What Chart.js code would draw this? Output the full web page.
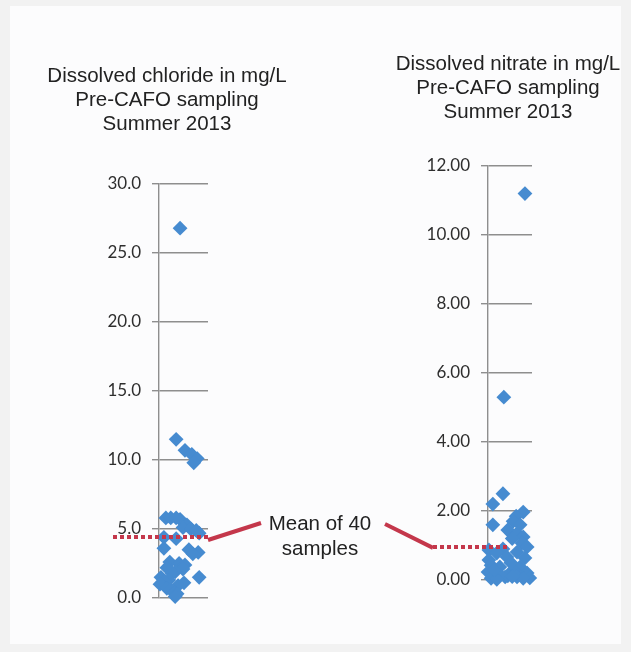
<!DOCTYPE html>
<html>
<head>
<meta charset="utf-8">
<script src="https://cdn.jsdelivr.net/npm/chart.js@4"></script>
<style>
  body { margin: 0; background: #f2f2f2; }
  #pagina { position: absolute; left: 10px; top: 6px; width: 611px; height: 638px; background: #fcfcfd; }
  canvas { position: absolute; left: 0; top: 0; }
  .texto { position: absolute; font-family: "Liberation Sans", Arial, sans-serif; font-size: 20.5px;
           color: #222; line-height: 24px; text-align: center; white-space: nowrap; }
</style>
</head>
<body>
<div id="pagina"></div>
<canvas id="graficoCloreto" width="631" height="652"></canvas>
<canvas id="graficoNitrato" width="631" height="652"></canvas>
<div class="texto" style="left:17px; top:63px; width:300px;">Dissolved chloride in mg/L<br>Pre-CAFO sampling<br>Summer 2013</div>
<div class="texto" style="left:358px; top:51px; width:300px;">Dissolved nitrate in mg/L<br>Pre-CAFO sampling<br>Summer 2013</div>
<div class="texto" style="left:220px; top:510px; width:200px; line-height:25px;">Mean of 40<br>samples</div>
<script>
// Cloreto dissolvido (mg/L), 40 amostras, com deslocamento horizontal (jitter) de cada ponto
const cloretoValores = [26.8, 11.5, 10.7, 10.4, 10.1, 9.8, 5.8, 5.8, 5.8, 5.7,
                        5.3, 5.1, 5.0, 4.9, 4.7, 4.4, 4.3, 3.6, 3.5, 3.3,
                        3.2, 2.6, 2.5, 2.4, 2.2, 2.1, 1.9, 1.8, 1.5, 1.5,
                        1.3, 1.2, 1.1, 1.0, 0.9, 0.7, 0.6, 0.4, 0.3, 0.1];
const cloretoJitter = [0.43, 0.35, 0.53, 0.67, 0.78, 0.71, 0.14, 0.24, 0.35, 0.43,
                       0.57, 0.49, 0.65, 0.76, 0.82, 0.10, 0.35, 0.10, 0.61, 0.80,
                       0.69, 0.22, 0.41, 0.53, 0.16, 0.49, 0.33, 0.27, 0.04, 0.82,
                       0.20, 0.12, 0.51, 0.02, 0.39, 0.16, 0.24, 0.31, 0.37, 0.33];
const cloretoMedia = 4.42;
const cloretoTicks = [0, 5, 10, 15, 20, 25, 30];

// Nitrato dissolvido (mg/L), 40 amostras
const nitratoValores = [11.2, 5.3, 2.5, 2.2, 1.97, 1.85, 1.7, 1.6, 1.6, 1.45,
                        1.35, 1.25, 1.2, 1.07, 0.96, 0.87, 0.9, 0.78, 0.81, 0.67,
                        0.64, 0.58, 0.43, 0.38, 0.38, 0.29, 0.23, 0.2, 0.14, 0.12,
                        0.09, 0.09, 0.06, 0.05, 0.15, 0.05, 0.1, 0.02, 0.3, 0.5];
const nitratoJitter = [0.84, 0.36, 0.34, 0.11, 0.80, 0.64, 0.57, 0.11, 0.73, 0.45,
                       0.66, 0.80, 0.55, 0.77, 0.89, 0.02, 0.34, 0.20, 0.66, 0.43,
                       0.84, 0.02, 0.07, 0.27, 0.73, 0.57, 0.00, 0.89, 0.16, 0.45,
                       0.39, 0.66, 0.95, 0.80, 0.27, 0.07, 0.55, 0.20, 0.14, 0.52];
const nitratoMedia = 0.96;
const nitratoTicks = [0, 2, 4, 6, 8, 10, 12];

const corPonto = '#468bd0';
const corMedia = '#c4374b';
const corGrade = '#8e8e8e';

// Plugin que desenha a linha pontilhada da média e a linha de ligação até o texto
const linhaMedia = {
    id: 'linhaMedia',
    afterDatasetsDraw(chart, args, opts) {
        const ctx = chart.ctx;
        const area = chart.chartArea;
        const y = chart.scales.y.getPixelForValue(opts.media);
        const x0 = area.left + opts.inicio;
        const x1 = opts.fim === null ? area.right : area.left + opts.fim;
        ctx.save();
        ctx.strokeStyle = corMedia;
        ctx.lineWidth = 4;
        ctx.setLineDash([4, 3]);
        ctx.beginPath();
        ctx.moveTo(x0, y);
        ctx.lineTo(x1, y);
        ctx.stroke();
        // Ligação sólida até a legenda "Mean of 40 samples"
        const xl = opts.ladoDireito ? x1 : x0;
        ctx.setLineDash([]);
        ctx.beginPath();
        ctx.moveTo(xl, y + opts.desvio);
        ctx.lineTo(opts.alvo[0], opts.alvo[1]);
        ctx.stroke();
        ctx.restore();
    }
};

// Cria um gráfico de dispersão com eixo vertical e pontos em losango
function criarGrafico(id, valores, jitter, ticks, casas, padding, media) {
    return new Chart(document.getElementById(id), {
        type: 'scatter',
        data: {
            datasets: [{
                data: valores.map((v, i) => ({ x: jitter[i], y: v })),
                pointStyle: 'rectRot',
                pointRadius: 7.4,
                backgroundColor: corPonto,
                borderColor: corPonto,
                borderWidth: 0,
                clip: false
            }]
        },
        options: {
            responsive: false,
            animation: false,
            events: [],
            layout: { padding: padding },
            plugins: { legend: { display: false }, tooltip: { enabled: false }, linhaMedia: media },
            scales: {
                x: { display: false, min: 0, max: 1 },
                y: {
                    min: ticks[0],
                    max: ticks[ticks.length - 1],
                    afterFit: s => { s.width = 60; },
                    afterBuildTicks: s => { s.ticks = ticks.map(v => ({ value: v })); },
                    ticks: {
                        padding: 11,
                        color: '#2e2e2e',
                        font: { family: 'Lato', size: 17 },
                        callback: v => v.toFixed(casas)
                    },
                    grid: { color: corGrade, lineWidth: 1.4, tickLength: 7 },
                    border: { display: true, color: corGrade, width: 1.4 }
                }
            }
        },
        plugins: [linhaMedia]
    });
}

criarGrafico('graficoCloreto', cloretoValores, cloretoJitter, cloretoTicks, 1,
    { left: 99, top: 184, right: 423, bottom: 54 },
    { media: cloretoMedia, inicio: -46, fim: null, ladoDireito: true, desvio: 3, alvo: [261, 523] });

criarGrafico('graficoNitrato', nitratoValores, nitratoJitter, nitratoTicks, 2,
    { left: 428, top: 166, right: 99, bottom: 72 },
    { media: nitratoMedia, inicio: -55, fim: 20, ladoDireito: false, desvio: 1, alvo: [385, 524] });
</script>
</body>
</html>
